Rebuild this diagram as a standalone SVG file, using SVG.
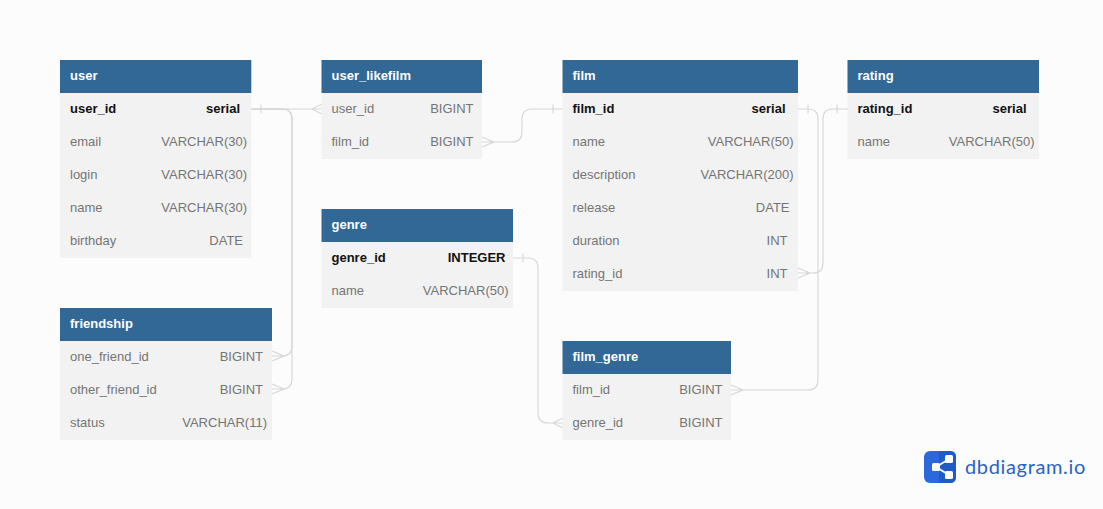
<svg xmlns="http://www.w3.org/2000/svg" width="1103" height="509" viewBox="0 0 1103 509">
<style>
text{font-family:"Liberation Sans",Arial,sans-serif;font-size:13px}
.bg{fill:#fcfcfc}
.body{fill:#f2f2f2}
.head{fill:#316896}
.title{fill:#fff;font-weight:700}
.n{fill:#757575}
.t{fill:#757575;text-anchor:end}
.pn{fill:#111;font-weight:700}
.pt{fill:#111;font-weight:700;text-anchor:end}
.c{fill:none;stroke:#d6d6d6;stroke-width:1.1}
.logo{font-family:Lato,"Open Sans",sans-serif;font-size:20px;fill:#2b62c4;letter-spacing:.65px}
</style>
<rect class="bg" width="1103" height="509"/>
<g id="connectors">
<path class="c" d="M251 109H322M261 104.500V113.500M322 104L312 109L322 114"/>
<path class="c" d="M272 356H282Q292 356 292 346V119Q292 109 282 109H251M272 351L284 356L272 361"/>
<path class="c" d="M272 389H282Q292 389 292 379V119Q292 109 282 109H251M272 384L284 389L272 394"/>
<path class="c" d="M482 142H512Q522 142 522 132V119Q522 109 532 109H563M553 104.500V113.500M482 137L494 142L482 147"/>
<path class="c" d="M798 109H808Q818 109 818 119V380Q818 390 808 390H731M808 104.500V113.500M731 385L743 390L731 395"/>
<path class="c" d="M848 109H833Q823 109 823 119V263Q823 273 813 273H798M837 104.500V113.500M798 268L810 273L798 278"/>
<path class="c" d="M513 258H528Q538 258 538 268V413Q538 423 548 423H563M523 253.500V262.500M563 418L553 423L563 428"/>
</g>
<g id="user">
<rect class="body" x="60" y="93" width="191.300" height="165"/><rect class="head" x="60" y="60" width="191.300" height="33"/>
<text class="title" x="70" y="80">user</text>
<text class="pn" x="70" y="113">user_id</text><text class="pt" x="240" y="113">serial</text>
<text class="n" x="70" y="146">email</text><text class="t" x="247" y="146">VARCHAR(30)</text>
<text class="n" x="70" y="179">login</text><text class="t" x="247" y="179">VARCHAR(30)</text>
<text class="n" x="70" y="212">name</text><text class="t" x="247" y="212">VARCHAR(30)</text>
<text class="n" x="70" y="245">birthday</text><text class="t" x="243" y="245">DATE</text>
</g>
<g id="friendship">
<rect class="body" x="60" y="341" width="212" height="99"/><rect class="head" x="60" y="308" width="212" height="33"/>
<text class="title" x="70" y="328">friendship</text>
<text class="n" x="70" y="361">one_friend_id</text><text class="t" x="263" y="361">BIGINT</text>
<text class="n" x="70" y="394">other_friend_id</text><text class="t" x="263" y="394">BIGINT</text>
<text class="n" x="70" y="427">status</text><text class="t" x="267" y="427">VARCHAR(11)</text>
</g>
<g id="user_likefilm" transform="translate(-.5 0)">
<rect class="body" x="322" y="93" width="160.500" height="66"/><rect class="head" x="322" y="60" width="160.500" height="33"/>
<text class="title" x="332" y="80">user_likefilm</text>
<text class="n" x="332" y="113">user_id</text><text class="t" x="474" y="113">BIGINT</text>
<text class="n" x="332" y="146">film_id</text><text class="t" x="474" y="146">BIGINT</text>
</g>
<g id="genre" transform="translate(-.5 0)">
<rect class="body" x="322" y="242" width="191.500" height="66"/><rect class="head" x="322" y="209" width="191.500" height="33"/>
<text class="title" x="332" y="229">genre</text>
<text class="pn" x="332" y="262">genre_id</text><text class="pt" x="506" y="262">INTEGER</text>
<text class="n" x="332" y="295">name</text><text class="t" x="509" y="295">VARCHAR(50)</text>
</g>
<g id="film" transform="translate(-.5 0)">
<rect class="body" x="563" y="93" width="235.500" height="198"/><rect class="head" x="563" y="60" width="235.500" height="33"/>
<text class="title" x="573" y="80">film</text>
<text class="pn" x="573" y="113">film_id</text><text class="pt" x="786" y="113">serial</text>
<text class="n" x="573" y="146">name</text><text class="t" x="794" y="146">VARCHAR(50)</text>
<text class="n" x="573" y="179">description</text><text class="t" x="794" y="179">VARCHAR(200)</text>
<text class="n" x="573" y="212">release</text><text class="t" x="790" y="212">DATE</text>
<text class="n" x="573" y="245">duration</text><text class="t" x="788" y="245">INT</text>
<text class="n" x="573" y="278">rating_id</text><text class="t" x="788" y="278">INT</text>
</g>
<g id="film_genre" transform="translate(-.5 0)">
<rect class="body" x="563" y="374" width="168.500" height="66"/><rect class="head" x="563" y="341" width="168.500" height="33"/>
<text class="title" x="573" y="361">film_genre</text>
<text class="n" x="573" y="394">film_id</text><text class="t" x="723" y="394">BIGINT</text>
<text class="n" x="573" y="427">genre_id</text><text class="t" x="723" y="427">BIGINT</text>
</g>
<g id="rating" transform="translate(-.5 0)">
<rect class="body" x="848" y="93" width="191.500" height="66"/><rect class="head" x="848" y="60" width="191.500" height="33"/>
<text class="title" x="858" y="80">rating</text>
<text class="pn" x="858" y="113">rating_id</text><text class="pt" x="1027" y="113">serial</text>
<text class="n" x="858" y="146">name</text><text class="t" x="1035" y="146">VARCHAR(50)</text>
</g>
<g id="logo">
<rect x="924" y="451" width="32" height="32" rx="6" fill="#2a68dc"/>
<path d="M939 451H950Q956 451 956 457V477Q956 483 950 483H939Z" fill="#1f5cc4"/>
<path d="M936 467L949 459M936 467L949 475" stroke="#fff" stroke-width="2" fill="none"/>
<rect x="932" y="463" width="8" height="8" rx="1.500" fill="#fff"/>
<rect x="945" y="455" width="8" height="8" rx="1.500" fill="#fff"/>
<rect x="945" y="471" width="8" height="8" rx="1.500" fill="#fff"/>
<text class="logo" x="965" y="474">dbdiagram.io</text>
</g>
</svg>
